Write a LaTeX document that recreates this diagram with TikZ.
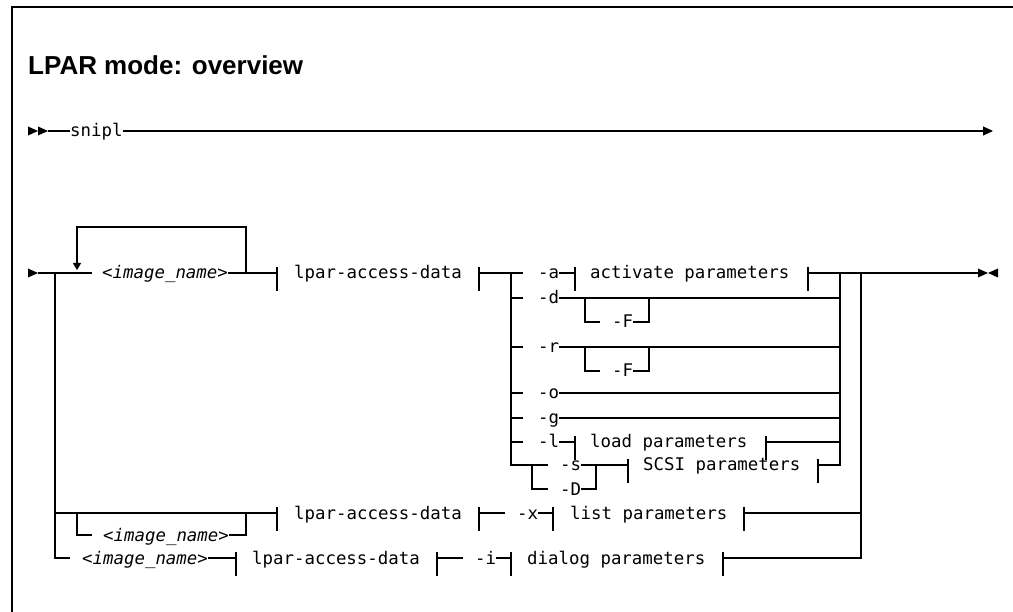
\documentclass[tikz,border=0pt]{standalone}
\usepackage{fontspec}
\setmainfont{Liberation Sans}
\newfontfamily\monof{DejaVu Sans Mono}
\usetikzlibrary{arrows.meta}
\begin{document}
\begin{tikzpicture}[x=1pt,y=-1pt,
  ln/.style={line width=1.1pt},
  frame/.style={line width=1.5pt},
  mono/.style={font=\monof\fontsize{17.4}{20}\selectfont, inner sep=0pt, text height=14pt, text depth=2pt, anchor=west},
  titletext/.style={font=\bfseries\fontsize{26}{30}\selectfont, inner sep=0pt, anchor=base west},
  fbar/.pic={\draw[line width=1.1pt] (0,-6) -- (0,18);},
  tip/.style={-{Triangle[length=10pt,width=9pt]}}
]
\useasboundingbox (0,0) rectangle (1013,612);
% frame
\draw[frame] (12,612) -- (12,7) -- (1013,7);
\node[titletext] (title) at (28,75) {LPAR mode: overview};

% row 0 : snipl
\fill (28,126.5) -- (38,131) -- (28,135.5) -- cycle;
\fill (38,126.5) -- (48,131) -- (38,135.5) -- cycle;
\coordinate (r0s) at (48,131);
\coordinate (r0e) at (993,131);
\node[mono] (snipl) at (70,131) {snipl};
\draw[ln] (r0s) -- (snipl.west);
\draw[ln,tip] (snipl.east) -- (r0e);

% row 1
\fill (28,268.5) -- (38,273) -- (28,277.5) -- cycle;
\coordinate (r1s) at (38,273);
\coordinate (jl) at (55,273);
\node[mono] (img1) at (102,273) {\itshape <image\_name>};
\draw[ln] (r1s) -- (92,273);
\draw[ln] (img1.east) -- (277,273);
\draw[ln,-{Triangle[length=7pt,width=8pt]}] (246,273) -- (246,227) -- (77,227) -- (77,270);
\pic at (277,273) {fbar};
\node[mono] (lad1) at (294,273) {lpar-access-data};
\pic at (479,273) {fbar};
\draw[ln] (479,273) -- (523,273);
\node[mono] (opta) at (538,273) {-a};
\draw[ln] (opta.east) -- (575,273);
\pic at (575,273) {fbar};
\node[mono] (actp) at (590,273) {activate parameters};
\pic at (808,273) {fbar};
\coordinate (endp) at (978,273);
\draw[ln] (808,273) -- (endp);
\fill (978,268.5) -- (988,273) -- (978,277.5) -- cycle;
\fill (998,268.5) -- (988,273) -- (998,277.5) -- cycle;

% left main vertical
\draw[ln] (jl) -- (55,558) -- (70,558);
% option verticals
\draw[ln] (511,273) -- (511,465) -- (548,465);
\draw[ln] (840,273) -- (840,465) -- (818,465);
\draw[ln] (861,273) -- (861,558) -- (723,558);

% -d row
\node[mono] (optd) at (538,298) {-d};
\draw[ln] (511,298) -- (523,298);
\draw[ln] (optd.east) -- (840,298);
\node[mono] (fd) at (612,322) {-F};
\draw[ln] (585,298) -- (585,322) -- (600,322);
\draw[ln] (fd.east) -- (649,322) -- (649,298);

% -r row
\node[mono] (optr) at (538,347) {-r};
\draw[ln] (511,347) -- (523,347);
\draw[ln] (optr.east) -- (840,347);
\node[mono] (fr) at (612,371) {-F};
\draw[ln] (585,347) -- (585,371) -- (600,371);
\draw[ln] (fr.east) -- (649,371) -- (649,347);

% -o row
\node[mono] (opto) at (538,393) {-o};
\draw[ln] (511,393) -- (523,393);
\draw[ln] (opto.east) -- (840,393);

% -g row
\node[mono] (optg) at (538,418) {-g};
\draw[ln] (511,418) -- (523,418);
\draw[ln] (optg.east) -- (840,418);

% -l row
\node[mono] (optl) at (538,442) {-l};
\draw[ln] (511,442) -- (523,442);
\draw[ln] (optl.east) -- (575,442);
\pic at (575,442) {fbar};
\node[mono] (loadp) at (590,442) {load parameters};
\pic at (766,442) {fbar};
\draw[ln] (766,442) -- (840,442);

% -s / -D rows
\node[mono] (opts) at (560,465) {-s};
\node[mono] (optD) at (560,489) {-D};
\draw[ln] (532,465) -- (532,489) -- (548,489);
\draw[ln] (opts.east) -- (628,465);
\draw[ln] (optD.east) -- (596,489) -- (596,465);
\pic at (628,465) {fbar};
\node[mono] (scsip) at (643,465) {SCSI parameters};
\pic at (818,465) {fbar};

% -x row
\draw[ln] (55,513) -- (277,513);
\node[mono] (img2) at (103,535) {\itshape <image\_name>};
\draw[ln] (77,513) -- (77,535) -- (92,535);
\draw[ln] (img2.east) -- (246,535) -- (246,513);
\pic at (277,513) {fbar};
\node[mono] (lad2) at (294,513) {lpar-access-data};
\pic at (479,513) {fbar};
\draw[ln] (479,513) -- (505,513);
\node[mono] (optx) at (517,513) {-x};
\draw[ln] (optx.east) -- (553,513);
\pic at (553,513) {fbar};
\node[mono] (listp) at (570,513) {list parameters};
\pic at (744,513) {fbar};
\draw[ln] (744,513) -- (861,513);

% -i row
\node[mono] (img3) at (82,558) {\itshape <image\_name>};
\draw[ln] (img3.east) -- (236,558);
\pic at (236,558) {fbar};
\node[mono] (lad3) at (252,558) {lpar-access-data};
\pic at (437,558) {fbar};
\draw[ln] (437,558) -- (463,558);
\node[mono] (opti) at (475,558) {-i};
\draw[ln] (opti.east) -- (511,558);
\pic at (511,558) {fbar};
\node[mono] (dialp) at (527,558) {dialog parameters};
\pic at (723,558) {fbar};
\end{tikzpicture}
\end{document}
